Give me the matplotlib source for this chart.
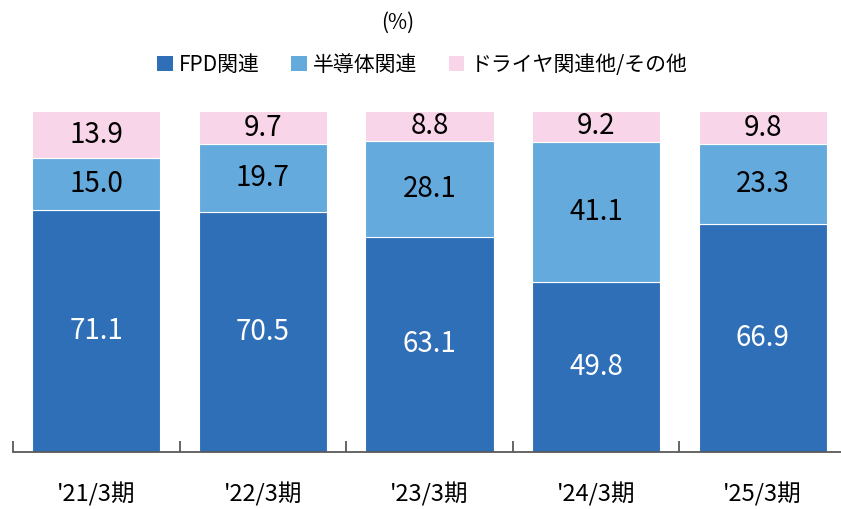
import numpy as np
import matplotlib.pyplot as plt
from matplotlib.patches import Patch

plt.rcParams['font.family'] = ['Noto Sans CJK JP', 'DejaVu Sans']

# share of sales by segment (%)
periods = ["'21/3期", "'22/3期", "'23/3期", "'24/3期", "'25/3期"]
fpd = [71.1, 70.5, 63.1, 49.8, 66.9]
semi = [15.0, 19.7, 28.1, 41.1, 23.3]
other = [13.9, 9.7, 8.8, 9.2, 9.8]
names = ['FPD関連', '半導体関連', 'ドライヤ関連他/その他']

colors = ['#2F6FB7', '#64AADC', '#F8D5E8']
text_colors = ['white', 'black', 'black']

fig = plt.figure(figsize=(8.41, 5.09), dpi=100)
ax = fig.add_axes([13 / 841, 57 / 509, 833 / 841, 341 / 509])

x = np.arange(len(periods))
bottom = np.zeros(len(periods))
for vals, c, tc in zip([fpd, semi, other], colors, text_colors):
    vals = np.array(vals)
    ax.bar(x, vals, 0.77, bottom=bottom, color=c, edgecolor='white', linewidth=0.8)
    for xi, b, v in zip(x, bottom, vals):
        ax.text(xi, b + v / 2, f'{v:.1f}', ha='center', va='center',
                fontsize=20, color=tc)
    bottom += vals

ax.set_xlim(-0.5, len(periods) - 0.5)
ax.set_ylim(0, 100)
ax.set_yticks([])
for s in ['top', 'right', 'left']:
    ax.spines[s].set_visible(False)
ax.spines['bottom'].set_color('#595959')
ax.spines['bottom'].set_linewidth(1.3)

ax.set_xticks(x)
ax.set_xticklabels(periods, fontsize=17)
ax.tick_params(axis='x', which='major', length=0, pad=22)
ax.set_xticks(np.arange(-0.5, len(periods)), minor=True)
ax.tick_params(axis='x', which='minor', direction='in', length=8,
               width=1.3, color='#595959')

handles = [Patch(facecolor=c, edgecolor='none') for c in colors]
fig.legend(handles, names, loc='center', bbox_to_anchor=(0.502, 1 - 65 / 509),
           ncol=3, frameon=False, fontsize=15, handlelength=0.75,
           handleheight=0.75, handletextpad=0.3, columnspacing=1.5)
fig.text(0.473, 1 - 23 / 509, '(%)', ha='center', va='center', fontsize=15)

fig.savefig('out.png', dpi=100)
